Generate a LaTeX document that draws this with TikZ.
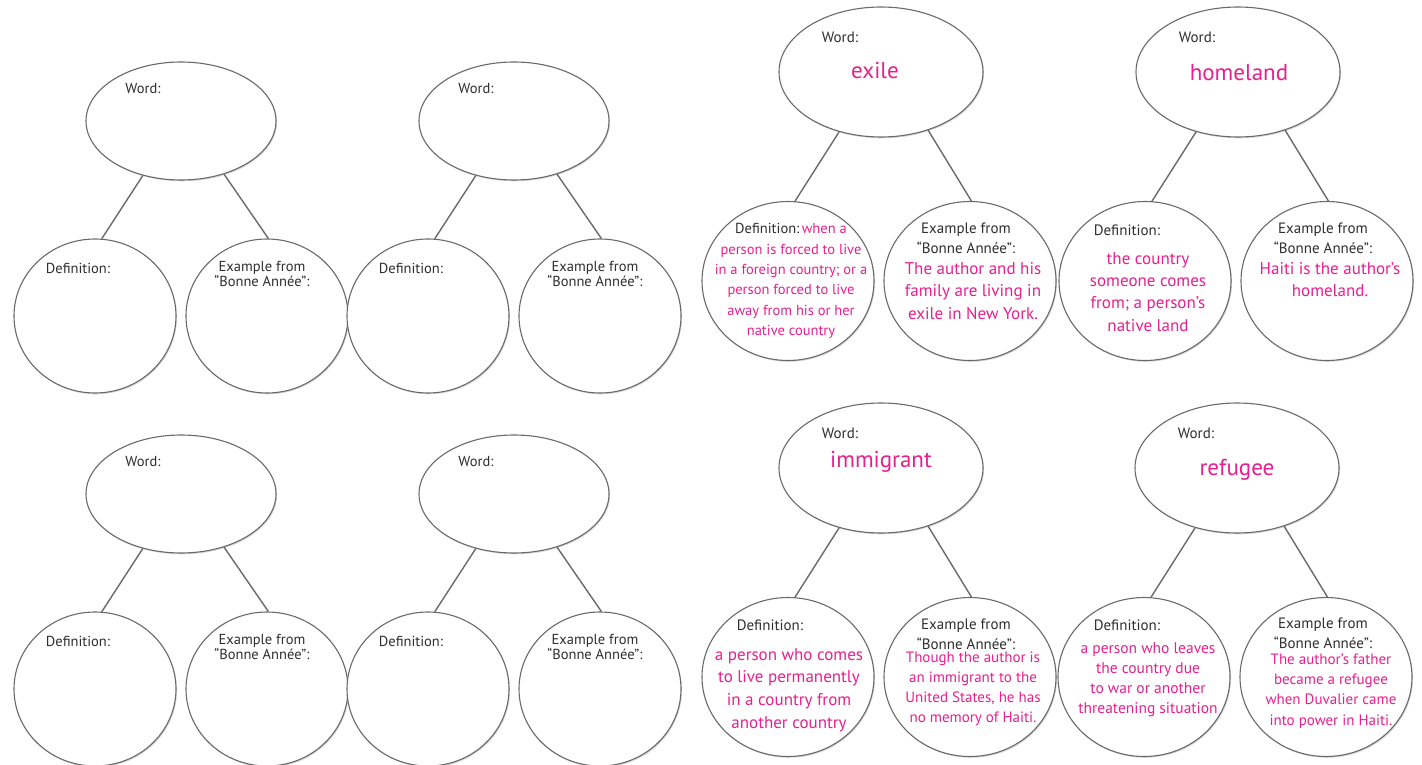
\documentclass[tikz,border=0pt]{standalone}
\usepackage{fontspec}
\setmainfont{PT Sans}
\usetikzlibrary{shapes.geometric,shadows}
\definecolor{pinkw}{HTML}{E8208E}
\definecolor{lab}{HTML}{2E2E2E}
\definecolor{edgec}{HTML}{6A6A6A}
\tikzset{
  bubble/.style={ellipse, draw=edgec, line width=1.1pt, fill=white, inner sep=0pt,
    drop shadow={shadow xshift=1pt, shadow yshift=-1.3pt, opacity=0.3}},
  wordL/.style={bubble, minimum width=190pt, minimum height=118pt},
  circL/.style={bubble, minimum width=162pt, minimum height=154pt},
  wordR/.style={bubble, minimum width=204pt, minimum height=130pt},
  circR/.style={bubble, minimum width=172pt, minimum height=159pt},
  link/.style={draw=edgec, line width=1.4pt},
  lbl/.style={inner sep=0pt, text=lab, font=\fontsize{14.5}{15.5}\selectfont, align=center},
  lblR/.style={inner sep=0pt, text=lab, font=\fontsize{15}{20}\selectfont, align=center},
  pk/.style={inner sep=0pt, text=pinkw, align=center},
  bigword/.style={inner sep=0pt, text=pinkw, anchor=base, font=\fontsize{23}{26}\selectfont},
}
\begin{document}
\begin{tikzpicture}[x=1pt,y=-1pt]
\fill[white] (0,0) rectangle (1422,765);
\useasboundingbox (0,0) rectangle (1422,765);

% ---------- empty left groups ----------
\foreach \n/\cx/\cy in {a/181/121, b/514/121, c/181/494, d/514/494} {
  \node[wordL] (\n w) at (\cx,\cy) {};
  \node[circL] (\n d) at (\cx-86,\cy+195) {};
  \node[circL] (\n e) at (\cx+86,\cy+195) {};
  \draw[link] (\n w.235) -- (\n d.85);
  \draw[link] (\n w.309) -- (\n e.89);
  \node[lbl] (\n wl) at (\cx-38,\cy-32) {Word:};
  \node[lbl] (\n dl) at (\cx-103,\cy+147) {Definition:};
  \node[lbl] (\n el) at (\cx+81,\cy+153) {Example from\\“Bonne Année”:};
}

% ---------- filled right groups: shapes ----------
\foreach \n/\cx/\cy in {x/881/72, h/1238/72, i/881/468, r/1237/468} {
  \node[wordR] (\n w) at (\cx,\cy) {};
  \node[circR] (\n d) at (\cx-93,\cy+209) {};
  \node[circR] (\n e) at (\cx+89,\cy+209) {};
  \draw[link] (\n w.235) -- (\n d.85);
  \draw[link] (\n w.309) -- (\n e.89);
  \node[lblR] (\n wl) at (\cx-41,\cy-35) {Word:};
}

% ---------- exile ----------
\node[bigword] (xwt) at (875,79) {exile};
\node[pk, font=\fontsize{14.5}{20.4}\selectfont] (xdt) at (791,281)
  {{\color{lab}Definition:}\,when a\\person is forced to live\\in a foreign country; or a\\person forced to live\\away from his or her\\native country};
\node[lblR] (xel) at (966,238) {Example from\\“Bonne Année”:};
\node[pk, font=\fontsize{17}{22.5}\selectfont] (xet) at (973,291)
  {The author and his\\family are living in\\exile in New York.};

% ---------- homeland ----------
\node[bigword] (hwt) at (1239,81) {homeland};
\node[lblR] (hdl) at (1127,230) {Definition:};
\node[pk, font=\fontsize{17}{22.3}\selectfont] (hdt) at (1148,292)
  {the country\\someone comes\\from; a person’s\\native land};
\node[lblR] (hel) at (1323,238) {Example from\\“Bonne Année”:};
\node[pk, font=\fontsize{17}{22}\selectfont] (het) at (1330,280)
  {Haiti is the author’s\\homeland.};

% ---------- immigrant ----------
\node[bigword] (iwt) at (881,467) {immigrant};
\node[lblR] (idl) at (770,625) {Definition:};
\node[pk, font=\fontsize{17}{22.7}\selectfont] (idt) at (789,690)
  {a person who comes\\to live permanently\\in a country from\\another country};
\node[lblR] (iel) at (966,634) {Example from\\“Bonne Année”:};
\node[pk, font=\fontsize{15}{20}\selectfont] (iet) at (973,689)
  {Though the author is\\an immigrant to the\\United States, he has\\no memory of Haiti.};

% ---------- refugee ----------
\node[bigword] (rwt) at (1237,475) {refugee};
\node[lblR] (rdl) at (1127,625) {Definition:};
\node[pk, font=\fontsize{15.5}{20}\selectfont] (rdt) at (1148,680)
  {a person who leaves\\the country due\\to war or another\\threatening situation};
\node[lblR] (rel) at (1323,633) {Example from\\“Bonne Année”:};
\node[pk, font=\fontsize{15}{20.3}\selectfont] (ret) at (1331,691)
  {The author’s father\\became a refugee\\when Duvalier came\\into power in Haiti.};
\end{tikzpicture}
\end{document}
